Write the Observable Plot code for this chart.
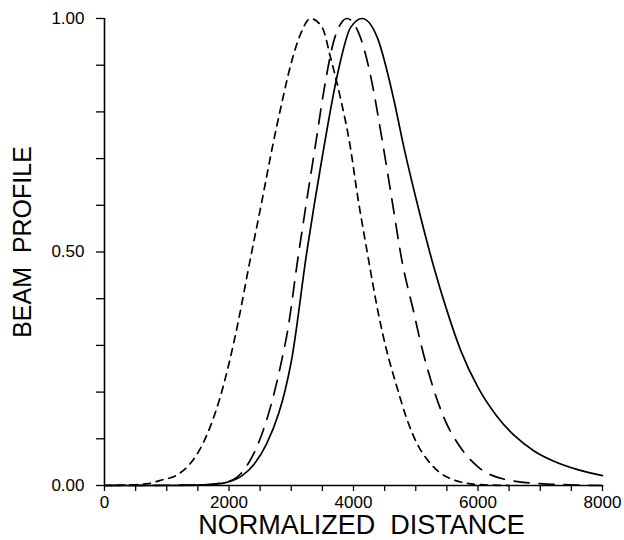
<!DOCTYPE html>
<html>
<head>
<meta charset="utf-8">
<script src="https://cdn.jsdelivr.net/npm/d3@7"></script>
<script src="https://cdn.jsdelivr.net/npm/@observablehq/plot@0.6"></script>
<style>
  html, body { margin: 0; padding: 0; background: #fff; }
</style>
</head>
<body>
<div id="chart"></div>
<script>
// Solid curve
const solidX = [0, 1000, 1500, 1800, 2000, 2200, 2400, 2600, 2800, 2900, 3000, 3250, 3500, 3750, 3950, 4140, 4380, 4650, 4800, 5050, 5290, 5500, 5720, 6000, 6300, 6600, 6900, 7200, 7600, 8000];
const solidY = [0, 0, 0.001, 0.003, 0.008, 0.02, 0.045, 0.088, 0.155, 0.203, 0.265, 0.5, 0.705, 0.885, 0.98, 1.0, 0.96, 0.825, 0.73, 0.59, 0.468, 0.375, 0.29, 0.21, 0.149, 0.105, 0.074, 0.053, 0.034, 0.021];

// Long-dashed curve
const longX = [0, 1500, 1900, 2130, 2300, 2500, 2670, 2850, 2940, 3100, 3260, 3390, 3530, 3680, 3800, 3900, 4000, 4110, 4270, 4460, 4620, 4780, 4970, 5080, 5250, 5450, 5700, 6000, 6470, 7000, 7600, 8000];
const longY = [0, 0.001, 0.006, 0.018, 0.045, 0.10, 0.17, 0.27, 0.33, 0.48, 0.62, 0.73, 0.85, 0.95, 0.99, 1.0, 0.99, 0.96, 0.88, 0.74, 0.61, 0.48, 0.37, 0.305, 0.222, 0.146, 0.085, 0.04, 0.012, 0.004, 0.001, 0];

// Short-dashed curve
const shortX = [0, 400, 700, 900, 1170, 1330, 1600, 1860, 2100, 2350, 2530, 2690, 2850, 2990, 3150, 3310, 3500, 3630, 3790, 3950, 4060, 4220, 4420, 4520, 4700, 4850, 5020, 5250, 5500, 6000, 6500];
const shortY = [0, 0.001, 0.004, 0.011, 0.023, 0.04, 0.095, 0.19, 0.32, 0.49, 0.61, 0.72, 0.82, 0.90, 0.967, 1.0, 0.98, 0.917, 0.83, 0.724, 0.625, 0.50, 0.355, 0.296, 0.21, 0.145, 0.09, 0.045, 0.018, 0.002, 0];

// Ticks and labels
const xTicks = [0, 500, 1000, 1500, 2000, 2500, 3000, 3500, 4000, 4500, 5000, 5500, 6000, 6500, 7000, 7500, 8000];
const xLabeled = [0, 2000, 4000, 6000, 8000];
const yTicks = [0, 0.1, 0.2, 0.3, 0.4, 0.5, 0.6, 0.7, 0.8, 0.9, 1.0];
const yLabeled = [0, 0.5, 1.0];
const xTitle = "NORMALIZED\u00a0\u00a0DISTANCE";
const yTitle = "BEAM\u00a0\u00a0PROFILE";

const toRows = (xs, ys) => xs.map((x, i) => ({x, y: ys[i]}));
const solid = toRows(solidX, solidY);
const longD = toRows(longX, longY);
const shortD = toRows(shortX, shortY);

const font = "'Liberation Sans', Arial, sans-serif";

const chart = Plot.plot({
  width: 624,
  height: 540,
  marginLeft: 104,
  marginRight: 22,
  marginTop: 18,
  marginBottom: 55,
  style: {fontFamily: font, fontSize: "17px", color: "#000", background: "#fff", overflow: "visible"},
  x: {domain: [0, 8000]},
  y: {domain: [0, 1]},
  marks: [
    Plot.axisX({
      ticks: xTicks,
      tickSize: 6,
      tickPadding: 4,
      strokeWidth: 1.3,
      tickFormat: d => xLabeled.includes(d) ? String(d) : "",
      label: null
    }),
    Plot.axisY({
      ticks: yTicks,
      tickSize: 8,
      tickPadding: 12,
      strokeWidth: 1.3,
      tickFormat: d => yLabeled.some(v => Math.abs(v - d) < 1e-9) ? d.toFixed(2) : "",
      label: null
    }),
    Plot.ruleY([0], {stroke: "#000", strokeWidth: 1.6}),
    Plot.ruleX([0], {stroke: "#000", strokeWidth: 1.6}),
    Plot.line(shortD, {x: "x", y: "y", curve: "monotone-x", stroke: "#000", strokeWidth: 1.7, strokeDasharray: "7,6"}),
    Plot.line(longD, {x: "x", y: "y", curve: "monotone-x", stroke: "#000", strokeWidth: 1.7, strokeDasharray: "15,10"}),
    Plot.line(solid, {x: "x", y: "y", curve: "monotone-x", stroke: "#000", strokeWidth: 1.7}),
    Plot.text([xTitle], {frameAnchor: "bottom", text: d => d, textAnchor: "middle", dx: 8, dy: 40, lineAnchor: "middle", fontSize: 27, fontFamily: font, fill: "#000"}),
    Plot.text([yTitle], {frameAnchor: "left", text: d => d, textAnchor: "middle", rotate: -90, dx: -82, dy: -10, lineAnchor: "middle", fontSize: 25, fontFamily: font, fill: "#000"})
  ]
});
document.getElementById("chart").appendChild(chart);
</script>
</body>
</html>
